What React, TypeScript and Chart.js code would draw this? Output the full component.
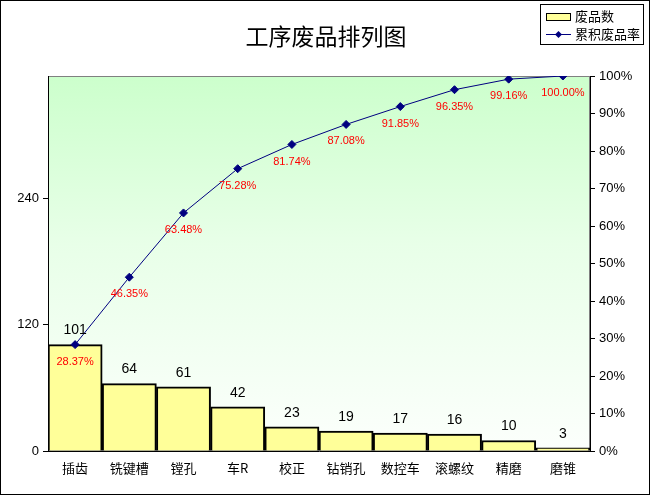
import React, { useEffect, useRef } from 'react';
import Chart from 'chart.js/auto';
import type { Plugin } from 'chart.js';

const processes = ['插齿', '铣键槽', '镗孔', '车R', '校正', '钻销孔', '数控车', '滚螺纹', '精磨', '磨锥'];
const scrapCounts = [101, 64, 61, 42, 23, 19, 17, 16, 10, 3];
const cumulativeRates = [0.2837, 0.4635, 0.6348, 0.7528, 0.8174, 0.8708, 0.9185, 0.9635, 0.9916, 1.0];
const countTicks = [0, 120, 240];

const latin = '"Liberation Sans", Arial, sans-serif';
const cjk = '"Noto Sans CJK SC", "Liberation Sans", sans-serif';
const totalCount = scrapCounts.reduce((a, b) => a + b, 0);

// plot background, frame, title, legend and value labels
const decorations: Plugin<'bar'> = {
    id: 'decorations',
    beforeDraw(chart) {
        const { ctx, chartArea: a } = chart;
        ctx.save();
        ctx.fillStyle = '#ffffff';
        ctx.fillRect(0, 0, chart.width, chart.height);
        const g = ctx.createLinearGradient(0, a.top, 0, a.bottom);
        g.addColorStop(0, '#ccffcc');
        g.addColorStop(0.45, '#e8ffe8');
        g.addColorStop(1, '#fcfffc');
        ctx.fillStyle = g;
        ctx.fillRect(a.left, a.top, a.right - a.left, a.bottom - a.top);
        ctx.strokeStyle = '#808080';
        ctx.lineWidth = 1;
        ctx.strokeRect(a.left + 0.5, a.top + 0.5, a.right - a.left - 1, a.bottom - a.top - 1);
        ctx.restore();
    },
    afterDatasetsDraw(chart) {
        const { ctx } = chart;
        ctx.save();
        ctx.textAlign = 'center';
        ctx.textBaseline = 'middle';
        const bars = chart.getDatasetMeta(0).data;
        ctx.fillStyle = '#000000';
        ctx.font = `14px ${latin}`;
        bars.forEach((el, i) => ctx.fillText(String(scrapCounts[i]), el.x, el.y - 14));
        const pts = chart.getDatasetMeta(1).data;
        ctx.fillStyle = '#ff0000';
        ctx.font = `11px ${latin}`;
        pts.forEach((el, i) => ctx.fillText((cumulativeRates[i] * 100).toFixed(2) + '%', el.x, el.y + 17));
        ctx.restore();
    },
    afterDraw(chart) {
        const { ctx } = chart;
        ctx.save();
        // title
        ctx.fillStyle = '#000000';
        ctx.font = `23px ${cjk}`;
        ctx.textAlign = 'center';
        ctx.textBaseline = 'middle';
        ctx.fillText('工序废品排列图', 326, 36);
        // legend
        ctx.strokeStyle = '#000000';
        ctx.lineWidth = 1;
        ctx.strokeRect(540.5, 4.5, 103, 40);
        ctx.fillStyle = '#ffff99';
        ctx.fillRect(546, 13, 24, 7);
        ctx.strokeRect(546.5, 13.5, 24, 7);
        ctx.strokeStyle = '#000080';
        ctx.beginPath();
        ctx.moveTo(546, 34.5);
        ctx.lineTo(571, 34.5);
        ctx.stroke();
        ctx.fillStyle = '#000080';
        ctx.beginPath();
        ctx.moveTo(558.5, 31);
        ctx.lineTo(562, 34.5);
        ctx.lineTo(558.5, 38);
        ctx.lineTo(555, 34.5);
        ctx.closePath();
        ctx.fill();
        ctx.fillStyle = '#000000';
        ctx.font = `13px ${cjk}`;
        ctx.textAlign = 'left';
        ctx.fillText('废品数', 575, 16);
        ctx.fillText('累积废品率', 575, 34);
        // outer frame
        ctx.strokeStyle = '#000000';
        ctx.strokeRect(0.5, 0.5, chart.width - 1, chart.height - 1);
        ctx.restore();
    },
};

export default function App() {
    const canvasRef = useRef<HTMLCanvasElement>(null);

    useEffect(() => {
        document.body.style.margin = '0';
        if (!canvasRef.current) return;
        const chart = new Chart(canvasRef.current, {
            type: 'bar',
            data: {
                labels: processes,
                datasets: [
                    {
                        type: 'bar',
                        label: '废品数',
                        data: scrapCounts,
                        backgroundColor: '#ffff99',
                        borderColor: '#000000',
                        borderWidth: 2,
                        barPercentage: 1,
                        categoryPercentage: 1,
                        yAxisID: 'y',
                        order: 2,
                    },
                    {
                        type: 'line',
                        label: '累积废品率',
                        data: cumulativeRates,
                        borderColor: '#000080',
                        borderWidth: 1,
                        backgroundColor: '#000080',
                        pointStyle: 'rectRot',
                        pointRadius: 4,
                        pointBackgroundColor: '#000080',
                        pointBorderColor: '#000080',
                        yAxisID: 'y1',
                        order: 1,
                    } as any,
                ],
            },
            options: {
                responsive: false,
                animation: false,
                layout: { padding: { top: 76, left: 0, right: 0, bottom: 0 } },
                plugins: {
                    legend: { display: false },
                    title: { display: false },
                    tooltip: { enabled: false },
                },
                scales: {
                    x: {
                        offset: true,
                        grid: { display: false, drawTicks: false },
                        border: { color: '#000000', width: 1 },
                        ticks: { color: '#000000', font: { family: cjk, size: 13 }, padding: 9, maxRotation: 0 },
                        afterFit: (s) => { s.height = 44; },
                    },
                    y: {
                        position: 'left',
                        min: 0,
                        max: totalCount,
                        afterBuildTicks: (s) => { s.ticks = countTicks.map((v) => ({ value: v })); },
                        grid: { drawOnChartArea: false, tickLength: 5, color: '#000000' },
                        border: { color: '#000000', width: 1 },
                        ticks: { color: '#000000', font: { family: latin, size: 13 }, padding: 4 },
                        afterFit: (s) => { s.width = 48; },
                    },
                    y1: {
                        position: 'right',
                        min: 0,
                        max: 1,
                        ticks: {
                            stepSize: 0.1,
                            color: '#000000',
                            font: { family: latin, size: 13 },
                            padding: 4,
                            callback: (v) => Math.round(Number(v) * 100) + '%',
                        },
                        grid: { drawOnChartArea: false, tickLength: 5, color: '#000000' },
                        border: { color: '#000000', width: 1 },
                        afterFit: (s) => { s.width = 60; },
                    },
                },
            },
            plugins: [decorations],
        });
        return () => chart.destroy();
    }, []);

    return (
        <div style={{ width: 650, height: 495 }}>
            <canvas ref={canvasRef} width={650} height={495} />
        </div>
    );
}
